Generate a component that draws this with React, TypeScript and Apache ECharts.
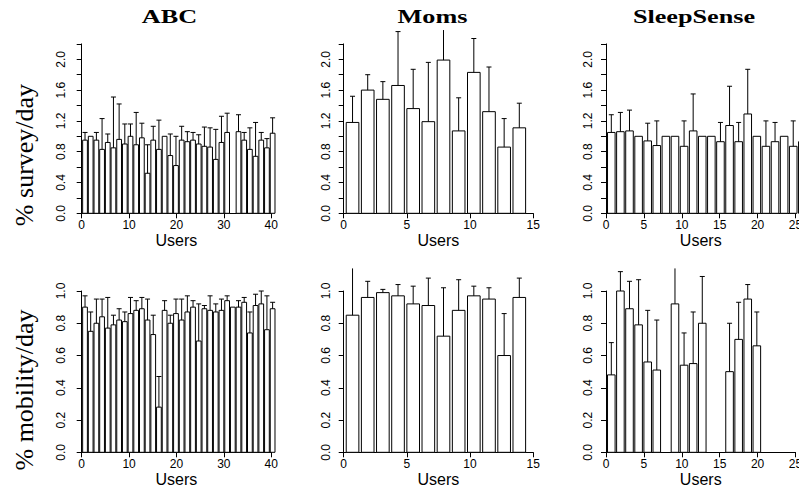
import React, { useEffect, useRef } from "react";
import * as echarts from "echarts";

// ---- texts ----
const panelTitles = ["ABC", "Moms", "SleepSense"];
const rowLabels = ["% survey/day", "% mobility/day"];
const xAxisName = "Users";

// ---- x axes (user axis, bar-plot units) ----
const xAxisMax = [40, 15, 25];
const xTickStep = [10, 5, 5];

// ---- y axes ----
const yTickMax = [2.2, 1.0];
const yVisibleMax = [2.38, 1.14];

// ---- data: bar heights (mean) and upper end of the error bar, null = no bar ----
const abcSurvey = [0.95, 1.0, 0.95, 0.83, 0.92, 0.85, 0.96, 0.9, 1.0, 0.89, 0.98, 0.52, 0.95, 0.83, 1.0, 0.75, 0.62, 0.95, 0.93, 0.95, 0.9, 0.87, 0.86, 0.7, 0.92, 1.05, null, 1.06, 0.95, 0.83, 0.74, 0.95, 0.85, 1.04];
const abcSurveyUpper = [1.05, 1.0, 1.05, 1.23, 1.03, 1.51, 1.42, 1.16, 1.16, 1.31, 1.17, 0.89, 1.13, 1.21, 1.0, 1.03, 1.0, 1.13, 1.06, 1.05, 1.02, 1.12, 1.11, 1.09, 1.26, 1.3, null, 1.28, 1.05, 1.11, 1.18, 1.05, 0.97, 1.24];
const abcMobility = [0.9, 0.75, 0.8, 0.84, 0.77, 0.79, 0.82, 0.81, 0.86, 0.88, 0.89, 0.82, 0.73, 0.28, 0.88, 0.8, 0.86, 0.82, 0.87, 0.9, 0.69, 0.89, 0.88, 0.87, 0.88, 0.94, 0.9, 0.9, 0.93, 0.74, 0.91, 0.92, 0.76, 0.89];
const abcMobilityUpper = [0.97, 0.87, 0.95, 0.95, 0.96, 0.85, 0.89, 0.87, 0.96, 0.94, 0.96, 0.95, 0.85, 0.47, 0.94, 0.85, 0.95, 0.95, 0.97, 0.94, 0.92, 0.91, 0.97, 0.92, 0.95, 0.97, 0.9, 0.94, 0.96, 0.87, 0.98, 1.0, 0.97, 0.93];

const momsSurvey = [1.18, 1.6, 1.48, 1.66, 1.36, 1.19, 1.99, 1.07, 1.83, 1.32, 0.86, 1.11];
const momsSurveyUpper = [1.52, 1.8, 1.71, 2.36, 1.87, 1.96, 2.6, 1.5, 2.27, 1.9, 1.23, 1.43];
const momsMobility = [0.85, 0.96, 0.99, 0.97, 0.92, 0.91, 0.72, 0.88, 0.97, 0.95, 0.6, 0.96];
const momsMobilityUpper = [1.2, 1.06, 1.01, 1.04, 1.03, 1.08, 1.02, 1.07, 1.03, 1.02, 0.86, 1.08];

const sleepSurvey = [1.05, 1.06, 1.07, 1.0, 0.94, 0.88, 1.0, 1.0, 0.87, 1.07, 1.0, 1.0, 0.93, 1.14, 0.93, 1.29, 1.0, 0.87, 0.93, 1.0, 0.87, 0.93, 1.0];
const sleepSurveyUpper = [1.28, 1.31, 1.34, 1.0, 1.17, 1.2, 1.0, 1.0, 1.2, 1.55, 1.0, 1.0, 1.18, 1.65, 1.18, 1.87, 1.0, 1.2, 1.18, 1.0, 1.2, 1.1, 1.0];
const sleepMobility = [0.48, 1.0, 0.89, 0.79, 0.56, 0.51, null, 0.92, 0.54, 0.55, 0.8, null, null, 0.5, 0.7, 0.95, 0.66];
const sleepMobilityUpper = [0.68, 1.12, 1.06, 1.07, 0.88, 0.82, null, 1.2, 0.74, 0.87, 1.09, null, null, 0.8, 0.93, 1.04, 0.87];

const rowValues = [
  [abcSurvey, momsSurvey, sleepSurvey],
  [abcMobility, momsMobility, sleepMobility],
];
const rowUppers = [
  [abcSurveyUpper, momsSurveyUpper, sleepSurveyUpper],
  [abcMobilityUpper, momsMobilityUpper, sleepMobilityUpper],
];

// ---- layout (pixels) ----
const colX0 = [81.7, 343.7, 606];
const colAxisWidth = 189.5;
const colYAxisOffset = [10.5, 8, 7.7];
const rowZeroY = [213.3, 452.3];
const rowPxPerUnit = [77, 161.3];

const FONT_SANS = '"Liberation Sans", Arial, Helvetica, sans-serif';
const FONT_SERIF = '"Liberation Serif", "Times New Roman", serif';

function makeRenderItem(clipMax: number) {
  return (params: any, api: any) => {
    const x = api.value(0);
    const y = api.value(1);
    const up = api.value(2);
    const p0 = api.coord([x - 0.5, 0]);
    const p1 = api.coord([x + 0.5, y]);
    const children: any[] = [
      {
        type: "rect",
        shape: { x: p0[0], y: p1[1], width: p1[0] - p0[0], height: p0[1] - p1[1] },
        style: { fill: "#fff", stroke: "#000", lineWidth: 1 },
      },
    ];
    if (up > y + 1e-9) {
      const topVal = Math.min(up, clipMax);
      const c = api.coord([x, y]);
      const t = api.coord([x, topVal]);
      children.push({
        type: "line",
        shape: { x1: c[0], y1: c[1], x2: c[0], y2: t[1] },
        style: { stroke: "#000", lineWidth: 1 },
      });
      if (up <= clipMax) {
        children.push({
          type: "line",
          shape: { x1: c[0] - 2.5, y1: t[1], x2: c[0] + 2.5, y2: t[1] },
          style: { stroke: "#000", lineWidth: 1 },
        });
      }
    }
    return { type: "group", children };
  };
}

export default function App() {
  const ref = useRef<HTMLDivElement>(null);
  useEffect(() => {
    if (!ref.current) return;
    const chart = echarts.init(ref.current, null, { renderer: "svg" });
    const grids: any[] = [];
    const xAxes: any[] = [];
    const yAxes: any[] = [];
    const series: any[] = [];
    for (let r = 0; r < 2; r++) {
      for (let c = 0; c < 3; c++) {
        const idx = r * 3 + c;
        const height = yTickMax[r] * rowPxPerUnit[r];
        grids.push({
          left: colX0[c],
          top: rowZeroY[r] - height,
          width: colAxisWidth,
          height,
          containLabel: false,
          outerBoundsMode: "none",
        });
        xAxes.push({
          gridIndex: idx,
          type: "value",
          min: 0,
          max: xAxisMax[c],
          interval: xTickStep[c],
          splitLine: { show: false },
          axisLine: { show: true, onZero: false, lineStyle: { color: "#000", width: 1 } },
          axisTick: { show: true, length: 5, lineStyle: { color: "#000", width: 1 } },
          axisLabel: { color: "#000", fontSize: 12, fontFamily: FONT_SANS, margin: 6 },
          name: xAxisName,
          nameLocation: "middle",
          nameGap: 17,
          nameTextStyle: { color: "#000", fontSize: 16, fontFamily: FONT_SANS },
        });
        yAxes.push({
          gridIndex: idx,
          type: "value",
          min: 0,
          max: yTickMax[r],
          interval: 0.2,
          offset: colYAxisOffset[c],
          splitLine: { show: false },
          axisLine: { show: true, lineStyle: { color: "#000", width: 1 } },
          axisTick: { show: true, length: 5, lineStyle: { color: "#000", width: 1 } },
          axisLabel: {
            color: "#000",
            fontSize: 12,
            fontFamily: FONT_SANS,
            rotate: 90,
            margin: 4,
            formatter: (v: number) => {
              const k = Math.round(v * 10);
              if (r === 0 && k % 4 !== 0) return "";
              return (k / 10).toFixed(1);
            },
          },
        });
        const vals = rowValues[r][c];
        const ups = rowUppers[r][c];
        const data: any[] = [];
        vals.forEach((v, i) => {
          if (v === null || v === undefined) return;
          const center = 1.2 * (i + 1) - 0.5;
          data.push([center, v, ups[i] ?? v]);
        });
        series.push({
          type: "custom",
          xAxisIndex: idx,
          yAxisIndex: idx,
          clip: false,
          renderItem: makeRenderItem(yVisibleMax[r]),
          encode: { x: 0, y: 1 },
          data,
          silent: true,
        });
      }
    }
    const titleCenters = [169.5, 432.5, 694];
    const graphic: any[] = [];
    panelTitles.forEach((t, c) => {
      graphic.push({
        type: "text",
        x: titleCenters[c],
        y: 16.3,
        scaleX: 1.38,
        style: {
          text: t,
          fontFamily: FONT_SERIF,
          fontWeight: "bold",
          fontSize: 19,
          fill: "#000",
          textAlign: "center",
          textVerticalAlign: "middle",
          align: "center",
          verticalAlign: "middle",
        },
      });
    });
    const labelCenters = [155, 390];
    rowLabels.forEach((t, r) => {
      graphic.push({
        type: "text",
        x: 24,
        y: labelCenters[r],
        rotation: Math.PI / 2,
        style: {
          text: t,
          fontFamily: FONT_SERIF,
          fontSize: 26,
          fill: "#000",
          textAlign: "center",
          textVerticalAlign: "middle",
          align: "center",
          verticalAlign: "middle",
        },
      });
    });
    chart.setOption({
      animation: false,
      backgroundColor: "#fff",
      grid: grids,
      xAxis: xAxes,
      yAxis: yAxes,
      series,
      graphic,
    });
    return () => chart.dispose();
  }, []);
  return (
    <div style={{ position: "fixed", left: 0, top: 0, width: 799, height: 494, overflow: "hidden", background: "#fff" }}>
      <div ref={ref} style={{ width: 799, height: 494 }} />
    </div>
  );
}
